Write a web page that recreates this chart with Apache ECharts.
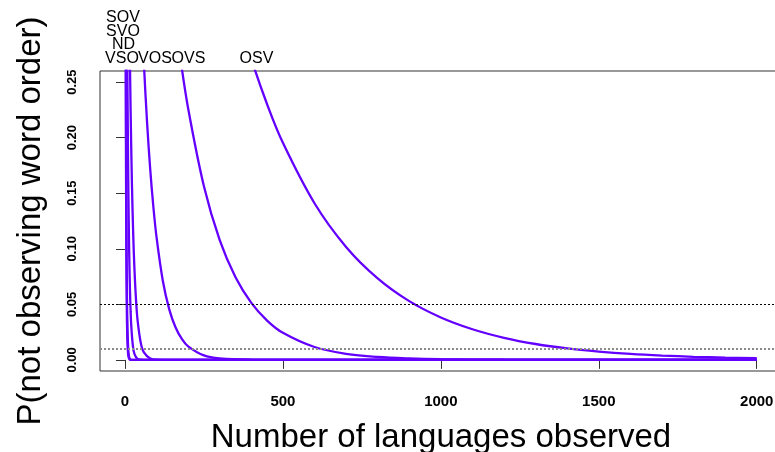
<!DOCTYPE html>
<html>
<head>
<meta charset="utf-8">
<script src="https://cdn.jsdelivr.net/npm/echarts@6/dist/echarts.min.js"></script>
<style>
  html, body { margin: 0; padding: 0; background: #ffffff; }
  #chart { width: 775px; height: 452px; }
</style>
</head>
<body>
<div id="chart"></div>
<script>
// Probability of never having observed a given word order after n languages.
const wordOrders = ['SOV', 'SVO', 'ND', 'VSO', 'VOS', 'OVS', 'OSV'];

// [languages observed, probability] per word order
const curveSOV = [[1, 0.59], [2, 0.3481], [3, 0.2054], [4, 0.1212], [5, 0.0715], [6, 0.0422], [7, 0.0249], [8, 0.0147], [10, 0.0051], [12, 0.0018], [15, 0.00036], [20, 0.00003], [2000, 0]];
const curveSVO = [[1, 0.64], [2, 0.4096], [3, 0.2621], [4, 0.1678], [5, 0.1074], [6, 0.0687], [7, 0.044], [8, 0.0282], [10, 0.0115], [12, 0.0047], [15, 0.0012], [20, 0.00013], [2000, 0]];
const curveND  = [[4, 0.4979], [6, 0.3513], [8, 0.2479], [10, 0.1749], [12, 0.1234], [14, 0.0871], [16, 0.0614], [18, 0.0434], [20, 0.0306], [25, 0.0128], [30, 0.0054], [40, 0.0009], [60, 0.00003], [2000, 0]];
const curveVSO = [[10, 0.4344], [14, 0.3112], [18, 0.2229], [22, 0.1597], [26, 0.1144], [30, 0.082], [35, 0.054], [40, 0.0356], [50, 0.0155], [60, 0.0067], [80, 0.0013], [100, 0.00024], [150, 0], [2000, 0]];
const curveVOS = [[50, 0.3322], [60, 0.2665], [70, 0.2138], [80, 0.1715], [90, 0.1376], [100, 0.1104], [120, 0.071], [140, 0.0457], [160, 0.0294], [180, 0.0189], [200, 0.0122], [250, 0.004], [300, 0.0013], [400, 0.00015], [500, 0.00002], [2000, 0]];
const curveOVS = [[150, 0.3282], [175, 0.2726], [200, 0.2264], [250, 0.1562], [300, 0.1077], [350, 0.0743], [400, 0.0513], [450, 0.0354], [500, 0.0244], [600, 0.0116], [700, 0.0055], [800, 0.0026], [900, 0.00125], [1000, 0.0006], [1200, 0.00013], [1500, 0.00001], [2000, 0]];
const curveOSV = [[350, 0.3189], [400, 0.2709], [450, 0.2301], [500, 0.1954], [600, 0.141], [700, 0.1017], [800, 0.0734], [900, 0.0529], [1000, 0.0382], [1100, 0.0276], [1200, 0.0199], [1300, 0.0143], [1400, 0.0103], [1500, 0.0075], [1600, 0.0054], [1700, 0.0039], [1800, 0.0028], [1900, 0.002], [2000, 0.0015]];
const curves = [curveSOV, curveSVO, curveND, curveVSO, curveVOS, curveOVS, curveOSV];

// Reference probability levels
const thresholds = [0.05, 0.01];

// Axis ticks
const xTicks = [0, 500, 1000, 1500, 2000];
const yTicks = [0, 0.05, 0.10, 0.15, 0.20, 0.25];

const lineColor = '#6400ff';
const font = '"Liberation Sans", Arial, Helvetica, sans-serif';

// Label placement above the plot box: [center x, row]
const labelSpots = {
  SOV: [123, 3], SVO: [123, 2], ND: [123.5, 1], VSO: [122, 0],
  VOS: [155, 0], OVS: [188.5, 0], OSV: [256.5, 0]
};
const rowBaseline = [67, 53, 39.5, 26];

const chart = echarts.init(document.getElementById('chart'), null, { renderer: 'canvas' });

const series = wordOrders.map((name, i) => ({
  name: name,
  type: 'line',
  data: curves[i],
  showSymbol: false,
  symbol: 'none',
  smooth: 0.35,
  clip: true,
  lineStyle: { color: lineColor, width: 2.3 },
  z: 3,
  silent: true
}));

series.push({
  type: 'line',
  data: [],
  silent: true,
  markLine: {
    silent: true,
    symbol: 'none',
    label: { show: false },
    animation: false,
    data: [
      { yAxis: thresholds[0], lineStyle: { color: '#000000', type: [2, 2], width: 1 } },
      { yAxis: thresholds[1], lineStyle: { color: '#8a8a8a', type: [2, 2], width: 2 } }
    ]
  }
});

const graphic = wordOrders.map(name => ({
  type: 'text',
  x: labelSpots[name][0],
  y: rowBaseline[labelSpots[name][1]],
  style: {
    text: name,
    fill: '#000',
    font: '16px ' + font,
    textAlign: 'center',
    textVerticalAlign: 'bottom'
  },
  silent: true
}));

chart.setOption({
  animation: false,
  backgroundColor: '#ffffff',
  grid: {
    left: 100, top: 71, right: -7, bottom: 81,
    containLabel: false,
    outerBoundsMode: 'none',
    show: true, borderColor: '#333333', borderWidth: 1,
    backgroundColor: 'transparent'
  },
  xAxis: {
    type: 'value',
    min: -79, max: 2080,
    axisLine: { show: false },
    splitLine: { show: false },
    axisTick: { show: true, inside: false, length: 9, customValues: xTicks, lineStyle: { color: '#333', width: 1 } },
    axisLabel: {
      customValues: xTicks, margin: 23,
      formatter: v => String(v),
      fontFamily: font, fontWeight: 'bold', fontSize: 15, color: '#000'
    },
    name: 'Number of languages observed',
    nameLocation: 'middle',
    nameGap: 50,
    nameTextStyle: { fontFamily: font, fontSize: 33, color: '#000' }
  },
  yAxis: {
    type: 'value',
    min: -0.01, max: 0.26,
    axisLine: { show: false },
    splitLine: { show: false },
    axisTick: { show: true, inside: false, length: 9, customValues: yTicks, lineStyle: { color: '#333', width: 1 } },
    axisLabel: {
      customValues: yTicks, margin: 21, rotate: 90,
      formatter: v => v.toFixed(2),
      fontFamily: font, fontWeight: 'bold', fontSize: 13, color: '#000'
    },
    name: 'P(not observing word order)',
    nameLocation: 'middle',
    nameGap: 53,
    nameTextStyle: { fontFamily: font, fontSize: 33, color: '#000' }
  },
  graphic: graphic,
  series: series
});
</script>
</body>
</html>
